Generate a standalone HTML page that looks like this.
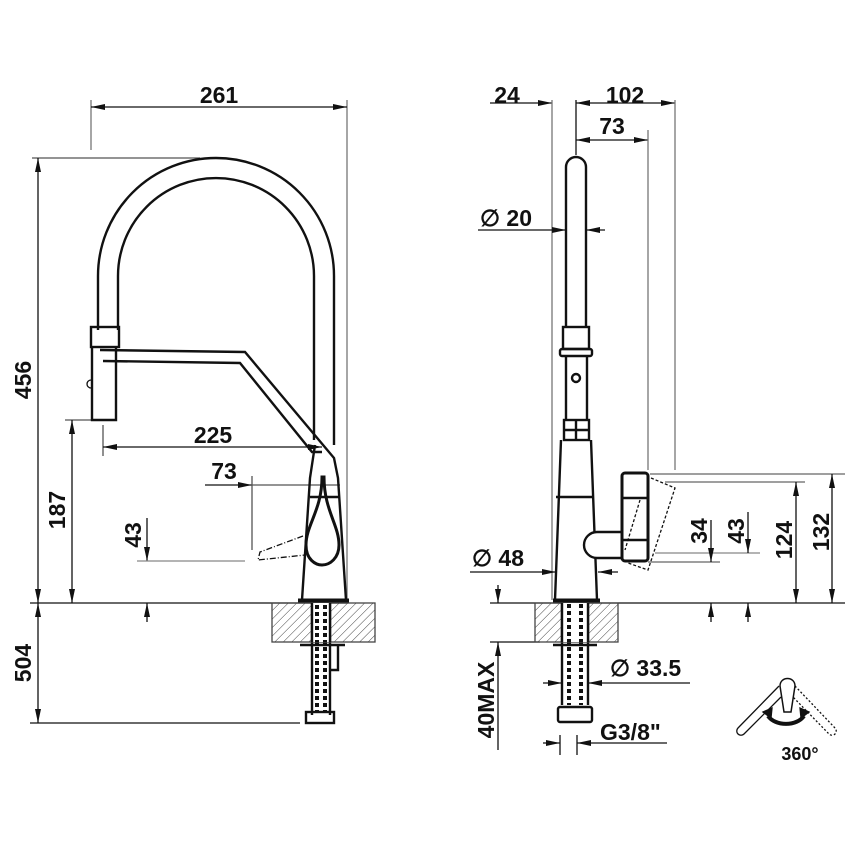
<!DOCTYPE html>
<html><head><meta charset="utf-8"><style>
html,body{margin:0;padding:0;background:#fff}
svg{display:block}
text{font-family:"Liberation Sans",Arial,sans-serif;font-size:23px;font-weight:bold;fill:#111}
</style></head><body>
<svg width="850" height="850" viewBox="0 0 850 850" xmlns="http://www.w3.org/2000/svg">
<defs>
<marker id="a" viewBox="0 0 14 6" refX="14" refY="3" markerWidth="14" markerHeight="6" markerUnits="userSpaceOnUse" orient="auto-start-reverse"><path d="M0,0L14,3L0,6z" fill="#111"/></marker>
<pattern id="h" width="6" height="6" patternUnits="userSpaceOnUse" patternTransform="rotate(45)"><line x1="0" y1="0" x2="0" y2="6" stroke="#444" stroke-width="1"/></pattern>
</defs>
<g fill="none" stroke="#111" stroke-width="1.3">
<line x1="91" y1="100" x2="91" y2="150" stroke="#777"/>
<line x1="347" y1="100" x2="347" y2="600" stroke="#777"/>
<line x1="91" y1="107" x2="347" y2="107" marker-start="url(#a)" marker-end="url(#a)"/>
<line x1="32" y1="158" x2="200" y2="158" stroke="#555"/>
<line x1="38" y1="158" x2="38" y2="603" marker-start="url(#a)" marker-end="url(#a)"/>
<line x1="38" y1="603" x2="38" y2="723" marker-start="url(#a)" marker-end="url(#a)"/>
<line x1="30" y1="723" x2="300" y2="723"/>
<line x1="30" y1="603" x2="348" y2="603"/>
<line x1="65" y1="420" x2="100" y2="420" stroke="#555"/>
<line x1="72" y1="420" x2="72" y2="603" marker-start="url(#a)" marker-end="url(#a)"/>
<line x1="103" y1="425" x2="103" y2="456" stroke="#555"/>
<line x1="103" y1="447" x2="322" y2="447" marker-start="url(#a)" marker-end="url(#a)"/>
<line x1="205" y1="485" x2="252" y2="485" marker-end="url(#a)"/>
<line x1="252" y1="476" x2="252" y2="550" stroke="#555"/>
<line x1="252" y1="485" x2="340" y2="485" stroke="#555"/>
<line x1="147" y1="518" x2="147" y2="561" marker-end="url(#a)"/>
<line x1="137" y1="561" x2="245" y2="561" stroke="#888"/>
<line x1="147" y1="622" x2="147" y2="603" marker-end="url(#a)"/>
<g stroke-width="2.4">
<path d="M98,330 L98,276 A118,118 0 0 1 334,276 L334,445"/>
<path d="M118,330 L118,276 A98,98 0 0 1 314,276 L314,440"/>
<rect x="91" y="327" width="28" height="20"/>
<path d="M92,347 L92,420 L116,420 L116,347"/>
<path d="M100,350 L245,352 L334,458 L338,478 L346,600"/>
<path d="M103,361 L240,363 L312,452 L322,452"/>
<path d="M315,445 L310,478 L302,600"/>
<line x1="298" y1="601" x2="349" y2="601" stroke-width="5"/>
<path d="M322,477 C322,510 306,525 306,545 C306,560 316,565 322,565 C330,565 339,558 339,545 C339,525 324,510 324,477 Z" stroke-width="3"/>
<line x1="310" y1="497" x2="340" y2="497"/>
<line x1="312" y1="603" x2="312" y2="715"/><line x1="330" y1="603" x2="330" y2="715"/>
<rect x="306" y="712" width="28" height="11"/>
<path d="M300,645 L345,645 M330,645 L338,645 L338,670 L330,670"/>
</g>
<line x1="317" y1="605" x2="317" y2="712" stroke-width="4" stroke-dasharray="4,3"/>
<line x1="325" y1="605" x2="325" y2="712" stroke-width="4" stroke-dasharray="4,3"/>
<path d="M303,536 L260,552 L258,560 L305,555" stroke-dasharray="6,2,1,2"/>
<path d="M91,380 A4,4 0 0 0 91,388"/>
<rect x="272" y="603" width="103" height="39" fill="url(#h)" stroke="#444"/>
<rect x="311" y="603" width="20" height="39" fill="#fff" stroke="none"/>
<line x1="312" y1="603" x2="312" y2="642" stroke-width="2.4"/><line x1="330" y1="603" x2="330" y2="642" stroke-width="2.4"/>
<line x1="317" y1="605" x2="317" y2="642" stroke-width="4" stroke-dasharray="4,3"/>
<line x1="325" y1="605" x2="325" y2="642" stroke-width="4" stroke-dasharray="4,3"/>

<line x1="490" y1="103" x2="552" y2="103" marker-end="url(#a)"/>
<line x1="552" y1="100" x2="552" y2="600" stroke="#777"/>
<line x1="576" y1="100" x2="576" y2="155"/>
<line x1="576" y1="103" x2="675" y2="103" marker-start="url(#a)" marker-end="url(#a)"/>
<line x1="675" y1="100" x2="675" y2="470" stroke="#777"/>
<line x1="576" y1="140" x2="648" y2="140" marker-start="url(#a)" marker-end="url(#a)"/>
<line x1="648" y1="130" x2="648" y2="470" stroke="#777"/>
<line x1="478" y1="230" x2="566" y2="230" marker-end="url(#a)"/>
<line x1="605" y1="230" x2="586" y2="230" marker-end="url(#a)"/>
<line x1="470" y1="572" x2="556" y2="572" marker-end="url(#a)"/>
<line x1="618" y1="572" x2="598" y2="572" marker-end="url(#a)"/>
<line x1="490" y1="603" x2="845" y2="603"/>
<line x1="650" y1="474" x2="845" y2="474" stroke="#666"/>
<line x1="665" y1="482" x2="805" y2="482" stroke="#666"/>
<line x1="796" y1="482" x2="796" y2="603" marker-start="url(#a)" marker-end="url(#a)"/>
<line x1="832" y1="474" x2="832" y2="603" marker-start="url(#a)" marker-end="url(#a)"/>
<line x1="648" y1="562" x2="720" y2="562" stroke="#666"/>
<line x1="655" y1="553" x2="760" y2="553" stroke="#888"/>
<line x1="711" y1="520" x2="711" y2="562" marker-end="url(#a)"/>
<line x1="711" y1="622" x2="711" y2="603" marker-end="url(#a)"/>
<line x1="748" y1="512" x2="748" y2="553" marker-end="url(#a)"/>
<line x1="748" y1="622" x2="748" y2="603" marker-end="url(#a)"/>
<line x1="490" y1="642" x2="540" y2="642"/>
<line x1="498" y1="585" x2="498" y2="603" marker-end="url(#a)"/>
<line x1="498" y1="750" x2="498" y2="642" marker-end="url(#a)"/>
<line x1="543" y1="683" x2="562" y2="683" marker-end="url(#a)"/>
<line x1="690" y1="683" x2="588" y2="683" marker-end="url(#a)"/>
<line x1="543" y1="743" x2="560" y2="743" marker-end="url(#a)"/>
<line x1="667" y1="743" x2="577" y2="743" marker-end="url(#a)"/>
<line x1="560" y1="735" x2="560" y2="755"/><line x1="577" y1="735" x2="577" y2="755"/>
<g stroke-width="2.4">
<path d="M566,327 L566,167 A10,10 0 0 1 586,167 L586,327"/>
<rect x="563" y="327" width="26" height="22"/>
<rect x="560" y="349" width="32" height="7" rx="2"/>
<path d="M566,356 L566,420 M587,356 L587,420"/>
<circle cx="576" cy="378" r="4"/>
<rect x="564" y="420" width="25" height="20"/>
<line x1="576" y1="420" x2="576" y2="440"/><line x1="564" y1="430" x2="589" y2="430"/>
<path d="M561,440 L555,600 M591,440 L597,600"/>
<line x1="556" y1="497" x2="594" y2="497"/>
<line x1="553" y1="601" x2="600" y2="601" stroke-width="5"/>
<path d="M597,532 A13,13 0 0 0 597,558 L622,558 L622,532 Z" fill="#fff"/>
<rect x="622" y="473" width="26" height="88" rx="3" fill="#fff" stroke-width="3"/>
<line x1="622" y1="498" x2="648" y2="498"/><line x1="622" y1="540" x2="648" y2="540"/>
<line x1="562" y1="603" x2="562" y2="705"/><line x1="588" y1="603" x2="588" y2="705"/>
<rect x="558" y="707" width="34" height="15" rx="2"/>
<path d="M553,645 L597,645"/>
</g>
<path d="M651,478 L675,488 L648,570 L628,563" stroke-dasharray="3,2"/>
<line x1="640" y1="500" x2="625" y2="550" stroke-dasharray="3,2"/>
<line x1="569" y1="605" x2="569" y2="705" stroke-width="4" stroke-dasharray="4,3"/>
<line x1="581" y1="605" x2="581" y2="705" stroke-width="4" stroke-dasharray="4,3"/>
<rect x="535" y="603" width="83" height="39" fill="url(#h)" stroke="#444"/>
<rect x="561" y="603" width="28" height="39" fill="#fff" stroke="none"/>
<line x1="562" y1="603" x2="562" y2="642" stroke-width="2.4"/><line x1="588" y1="603" x2="588" y2="642" stroke-width="2.4"/>
<line x1="569" y1="604" x2="569" y2="642" stroke-width="4" stroke-dasharray="4,3"/>
<line x1="581" y1="604" x2="581" y2="642" stroke-width="4" stroke-dasharray="4,3"/>
<path d="M779,686 L738,728 A4,4 0 0 0 744,734 L781,697"/>
<path d="M795,686 L835,728 A4,4 0 0 1 829,734 L793,697" stroke-dasharray="2,2"/>
<path d="M780,686 C780,676 795,676 795,686 L791,712 L784,712 Z" stroke-width="1.5" fill="#fff"/>
<path d="M768,716 A20,14 0 0 0 804,716" stroke-width="4"/>
<path d="M763,712 L772,708 L771,718 Z M809,712 L800,708 L801,718 Z" fill="#111"/>
</g>
<text x="219" y="103" text-anchor="middle">261</text>
<text x="213" y="443" text-anchor="middle">225</text>
<text x="224" y="479" text-anchor="middle">73</text>
<text transform="translate(31,380) rotate(-90)" text-anchor="middle">456</text>
<text transform="translate(31,663) rotate(-90)" text-anchor="middle">504</text>
<text transform="translate(65,510) rotate(-90)" text-anchor="middle">187</text>
<text transform="translate(141,535) rotate(-90)" text-anchor="middle">43</text>
<text x="507" y="103" text-anchor="middle">24</text>
<text x="625" y="103" text-anchor="middle">102</text>
<text x="612" y="134" text-anchor="middle">73</text>
<text x="480" y="226">∅ 20</text>
<text x="472" y="566">∅ 48</text>
<text x="610" y="676">∅ 33.5</text>
<text x="600" y="740">G3/8"</text>
<text transform="translate(707,531) rotate(-90)" text-anchor="middle">34</text>
<text transform="translate(744,531) rotate(-90)" text-anchor="middle">43</text>
<text transform="translate(792,540) rotate(-90)" text-anchor="middle">124</text>
<text transform="translate(829,532) rotate(-90)" text-anchor="middle">132</text>
<text transform="translate(494,700) rotate(-90)" text-anchor="middle">40MAX</text>
<text x="800" y="760" text-anchor="middle" style="font-size:18px;font-weight:bold">360°</text>
</svg>
</body></html>
